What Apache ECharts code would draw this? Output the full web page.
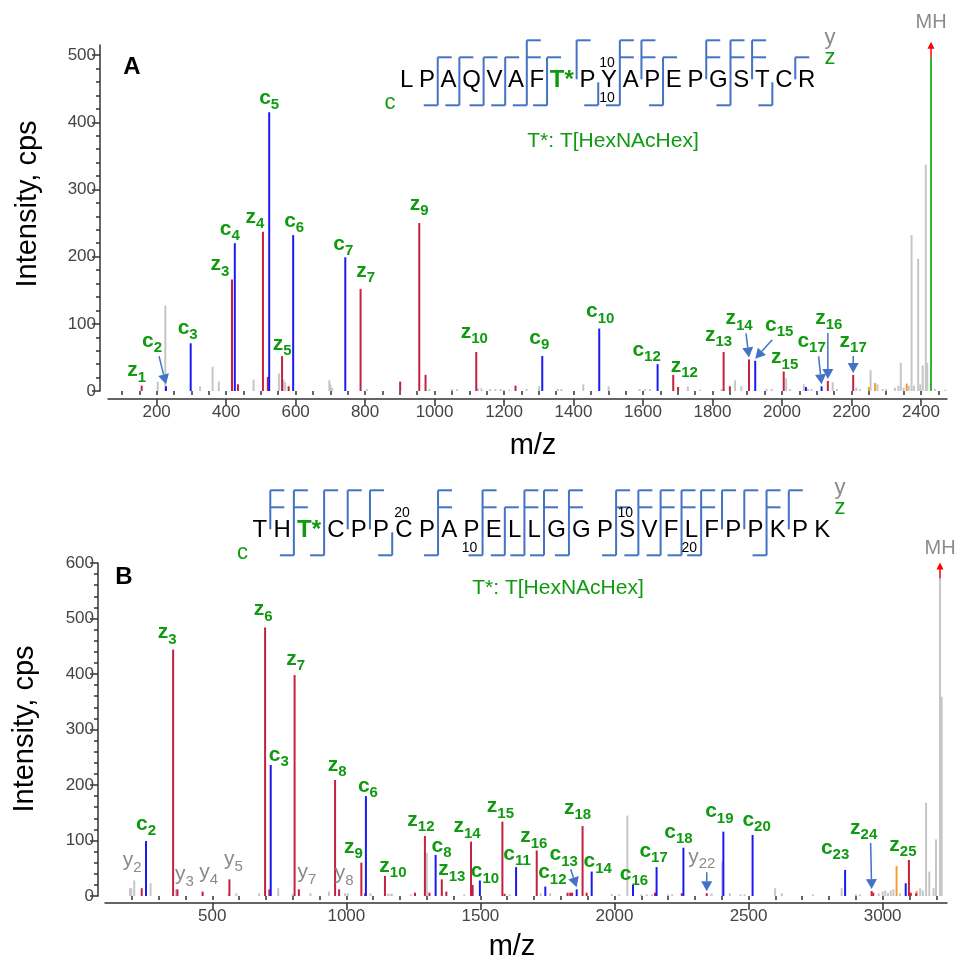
<!DOCTYPE html>
<html>
<head>
<meta charset="utf-8">
<script src="https://cdn.jsdelivr.net/npm/echarts@6/dist/echarts.min.js"></script>
<style>
  html, body { margin: 0; padding: 0; background: #fff; }
  #main { width: 955px; height: 962px; }
</style>
</head>
<body>
<div id="main"></div>
<script>
const FONT = '"Liberation Sans", Arial, Helvetica, sans-serif'
const C_BLUE = '#1a1af2'
const C_RED = '#c4203f'
const C_GRAY = '#c6c6c6'
const C_ORANGE = '#f0a030'
const C_MH = '#2db52d'
const C_LABEL = '#109a10'
const C_ARROW = '#4472c4'

// ---------- panel A ----------
const seqA = ['L', 'P', 'A', 'Q', 'V', 'A', 'F', 'T*', 'P', 'Y', 'A', 'P', 'E', 'P', 'G', 'S', 'T', 'C', 'R']
const cFragA = [2, 3, 4, 5, 6, 7, 9, 10, 12, 15, 17]
const zFragA = [1, 3, 4, 5, 7, 8, 9, 12, 13, 14, 15, 16, 17]
const yFragA = [3, 4, 5, 8, 9, 11, 13]

const xTicksA = [200, 400, 600, 800, 1000, 1200, 1400, 1600, 1800, 2000, 2200, 2400]
const yTicksA = [0, 100, 200, 300, 400, 500]

// [m/z, intensity]
const grayA = [[203, 14], [225, 127], [325, 7], [361, 36], [379, 14], [479, 17], [552, 26], [565, 17], [570, 13],
  [697, 16], [700, 10], [705, 5], [805, 3], [985, 3], [1050, 3], [1065, 3], [1125, 4], [1135, 4], [1160, 3],
  [1175, 3], [1190, 3], [1200, 2], [1215, 2], [1265, 3], [1301, 7], [1355, 3], [1365, 3], [1428, 10], [1501, 7],
  [1590, 3], [1605, 3], [1620, 3], [1729, 7], [1765, 2], [1826, 3], [1865, 16], [1883, 7], [1955, 3], [1970, 3],
  [2012, 19], [2023, 3], [2063, 10], [2075, 3], [2085, 3], [2146, 13], [2158, 3], [2214, 5], [2224, 3], [2255, 31],
  [2275, 10], [2290, 3], [2300, 3], [2325, 5], [2335, 8], [2342, 42], [2350, 5], [2365, 8], [2373, 232], [2380, 8],
  [2392, 197], [2398, 10], [2405, 38], [2414, 337], [2418, 42], [2440, 3], [2470, 2]]
const cPeaksA = [[227, 7], [298, 71], [425, 220], [524, 415], [593, 232], [743, 199], [1310, 52], [1474, 93],
  [1642, 40], [1923, 45], [2069, 6], [2114, 7]]
const zPeaksA = [[157, 8], [417, 166], [434, 10], [506, 237], [520, 21], [561, 52], [580, 7], [787, 152], [901, 14],
  [956, 250], [974, 24], [1120, 58], [1233, 8], [1687, 24], [1701, 6], [1832, 58], [1850, 7], [1905, 47],
  [2005, 29], [2132, 15], [2205, 24]]
const otherA = [[2250, 6], [2268, 12], [2359, 11]]
const mhA = [[2429, 496]]

// [ion, number, m/z of the peak it marks]
const labelsA = [['z', 1, 157], ['c', 2, 227], ['c', 3, 298], ['z', 3, 417], ['c', 4, 425], ['z', 4, 506],
  ['c', 5, 524], ['z', 5, 561], ['c', 6, 593], ['c', 7, 743], ['z', 7, 787], ['z', 9, 956], ['z', 10, 1120],
  ['c', 9, 1310], ['c', 10, 1474], ['c', 12, 1642], ['z', 12, 1687], ['z', 13, 1832], ['z', 14, 1905],
  ['c', 15, 1923], ['z', 15, 2005], ['c', 17, 2114], ['z', 16, 2132], ['z', 17, 2205]]

// ---------- panel B ----------
const seqB = ['T', 'H', 'T*', 'C', 'P', 'P', 'C', 'P', 'A', 'P', 'E', 'L', 'L', 'G', 'G', 'P', 'S', 'V', 'F', 'L',
  'F', 'P', 'P', 'K', 'P', 'K']
const cFragB = [2, 3, 6, 8, 10, 11, 12, 13, 14, 16, 17, 18, 19, 20, 23]
const zFragB = [3, 6, 7, 8, 9, 10, 12, 13, 14, 15, 16, 18, 24, 25]
const yFragB = [2, 3, 4, 5, 6, 7, 8, 9, 10, 12, 13, 14, 16, 18, 21, 22, 23, 24, 25]

const xTicksB = [500, 1000, 1500, 2000, 2500, 3000]
const yTicksB = [0, 100, 200, 300, 400, 500, 600]

const grayB = [[193, 14], [198, 14], [209, 28], [270, 23], [365, 12], [560, 4], [590, 5], [675, 5], [746, 14],
  [800, 4], [866, 5], [935, 8], [995, 5], [1005, 5], [1090, 5], [1155, 4], [1165, 4], [1170, 4], [1240, 3],
  [1300, 78], [1440, 3], [1610, 3], [1725, 5], [1760, 5], [1990, 4], [2018, 3], [2048, 145], [2100, 3],
  [2120, 3], [2140, 3], [2200, 3], [2215, 3], [2362, 5], [2402, 62], [2430, 5], [2470, 3], [2485, 3], [2599, 14],
  [2624, 5], [2740, 3], [2847, 14], [2900, 3], [2915, 3], [2985, 5], [3000, 8], [3010, 10], [3020, 5], [3030, 10],
  [3040, 12], [3065, 5], [3140, 14], [3150, 10], [3162, 168], [3174, 44], [3190, 14], [3199, 102], [3220, 359]]
const cPeaksB = [[253, 99], [718, 236], [1073, 180], [1333, 74], [1498, 28], [1633, 52], [1742, 17], [1859, 12],
  [1915, 44], [2069, 20], [2157, 52], [2257, 87], [2406, 116], [2515, 110], [2860, 47], [3086, 23]]
const zPeaksB = [[237, 14], [354, 444], [370, 12], [464, 8], [564, 30], [697, 484], [713, 12], [807, 398],
  [823, 12], [958, 209], [973, 12], [1056, 60], [1070, 5], [1144, 36], [1256, 6], [1293, 108], [1310, 6],
  [1356, 30], [1373, 8], [1465, 98], [1471, 20], [1582, 134], [1590, 4], [1710, 82], [1825, 6], [1835, 6],
  [1842, 6], [1881, 126], [1896, 6], [2151, 6], [2251, 5], [2344, 5], [2959, 9], [2965, 6], [3098, 65],
  [3105, 6], [3125, 5]]
const otherB = [[3052, 54], [3127, 9]]
const mhB = [[3214, 572]]

const labelsB = [['y', 2, 209], ['c', 2, 253], ['z', 3, 354], ['y', 3, 370], ['y', 4, 464], ['y', 5, 564],
  ['z', 6, 697], ['c', 3, 718], ['z', 7, 807], ['y', 7, 823], ['z', 8, 958], ['y', 8, 973], ['z', 9, 1056],
  ['c', 6, 1073], ['z', 10, 1144], ['z', 12, 1293], ['c', 8, 1333], ['z', 13, 1356], ['z', 14, 1465],
  ['c', 10, 1498], ['z', 15, 1582], ['c', 11, 1633], ['z', 16, 1710], ['c', 12, 1742], ['c', 13, 1859],
  ['z', 18, 1881], ['c', 14, 1915], ['c', 16, 2069], ['c', 17, 2157], ['c', 18, 2257], ['y', 22, 2344],
  ['c', 19, 2406], ['c', 20, 2515], ['c', 23, 2860], ['z', 24, 2959], ['z', 25, 3098]]

// label placement: [dx, dy] of the label baseline centre from the peak top, third item = draw an arrow
const layoutA = {
  z1: [-5, -8], c2: [-14, -38, 1], c3: [-3, -8], z3: [-12, -8], c4: [-5, -7], z4: [-8, -8], c5: [0, -7],
  z5: [0, -5], c6: [1, -7], c7: [-2, -6], z7: [5, -11], z9: [0, -12], z10: [-2, -13], c9: [-3, -11],
  c10: [1, -10], c12: [-11, -7], z12: [11, -2], z13: [-5, -10], z14: [-10, -34, 1], c15: [24, -29, 1],
  z15: [1, -7], c17: [-10, -38, 1], z16: [1, -56, 1], z17: [0, -27, 1]
}
const layoutB = {
  c2: [0, -10], z3: [-6, -10], z6: [-2, -11], c3: [8, -3], z7: [1, -9], z8: [2, -8], c6: [2, -3], z9: [-8, -9],
  z10: [8, -3], z12: [-4, -9], c8: [6, -2], z13: [10, -3], z14: [-4, -8], c10: [5, -2], z15: [-2, -8],
  c11: [1, -6], z16: [-3, -7], c12: [7, -7], c13: [-13, -28, 1], z18: [-5, -11], c14: [6, -3], c16: [1, -4],
  c17: [-3, -9], c18: [-5, -9], y22: [-5, -29, 1], c19: [-4, -13], c20: [4, -8], c23: [-10, -15],
  z24: [-8, -56, 1], z25: [-6, -8], y2: [-2, -13], y3: [7, -8], y4: [6, -12], y5: [4, -13], y7: [8, -10],
  y8: [5, -9]
}

const mctx = document.createElement('canvas').getContext('2d')
const textWidth = (s, font) => { mctx.font = font; return mctx.measureText(s).width }

// text placed by its baseline
const textEl = (s, x, base, size, font, color, align) => ({
  type: 'text',
  style: {
    text: s, x: x, y: base - 0.33 * size, font: font, fill: color,
    align: align || 'left', verticalAlign: 'middle', textAlign: align || 'left', textVerticalAlign: 'middle'
  }
})

const findIntensity = (lists, mz) => {
  for (const l of lists) {
    const p = l.find(d => d[0] === mz)
    if (p) return p[1]
  }
  return 0
}

const peakSeries = (data, color, idx) => ({
  type: 'custom',
  xAxisIndex: idx * 2,
  yAxisIndex: idx * 2,
  data: data,
  silent: true,
  clip: false,
  renderItem: (params, api) => {
    const p0 = api.coord([api.value(0), 0])
    const p1 = api.coord([api.value(0), api.value(1)])
    return {
      type: 'line',
      shape: { x1: p0[0], y1: p0[1], x2: p1[0], y2: p1[1] },
      style: { stroke: color, lineWidth: 2 }
    }
  }
})

const mhSeries = (data, color, idx, textGap) => ({
  type: 'custom',
  xAxisIndex: idx * 2,
  yAxisIndex: idx * 2,
  data: data,
  silent: true,
  clip: false,
  renderItem: (params, api) => {
    const p0 = api.coord([api.value(0), 0])
    const p1 = api.coord([api.value(0), api.value(1)])
    const x = p1[0], y = p1[1]
    return {
      type: 'group',
      children: [
        { type: 'line', shape: { x1: p0[0], y1: p0[1], x2: x, y2: y }, style: { stroke: color, lineWidth: 2 } },
        { type: 'line', shape: { x1: x, y1: y, x2: x, y2: y - 10 }, style: { stroke: '#ff0000', lineWidth: 1.5 } },
        { type: 'polygon', shape: { points: [[x, y - 16], [x - 3.5, y - 9], [x + 3.5, y - 9]] }, style: { fill: '#ff0000' } },
        textEl('MH', x, y - textGap, 20, '20px ' + FONT, '#8c8c8c', 'center')
      ]
    }
  }
})

const labelSeries = (labels, lists, layout, idx) => ({
  type: 'custom',
  xAxisIndex: idx * 2,
  yAxisIndex: idx * 2,
  data: labels.map(l => [l[2], findIntensity(lists, l[2])]),
  silent: true,
  clip: false,
  z: 5,
  renderItem: (params, api) => {
    const l = labels[params.dataIndex]
    const ion = l[0]
    const num = String(l[1])
    const top = api.coord([api.value(0), api.value(1)])
    const lay = layout[ion + num] || [0, -8]
    const weight = ion === 'y' ? 'normal ' : 'bold '
    const color = ion === 'y' ? '#8a8a8a' : C_LABEL
    const f1 = weight + '21px ' + FONT
    const f2 = weight + '15px ' + FONT
    const w1 = textWidth(ion, f1)
    const w2 = textWidth(num, f2)
    const cx = top[0] + lay[0]
    const base = top[1] + lay[1]
    const x0 = cx - (w1 + w2) / 2
    const children = [
      textEl(ion, x0, base, 21, f1, color),
      textEl(num, x0 + w1, base + 5, 15, f2, color)
    ]
    if (lay[2]) {
      const ax0 = cx + Math.max(-7, Math.min(7, top[0] - cx))
      const ay0 = base + 8
      const ax1 = top[0]
      const ay1 = top[1] - 2
      const len = Math.hypot(ax1 - ax0, ay1 - ay0)
      const ux = (ax1 - ax0) / len, uy = (ay1 - ay0) / len
      const hx = ax1 - ux * 10, hy = ay1 - uy * 10
      children.push({ type: 'line', shape: { x1: ax0, y1: ay0, x2: hx, y2: hy }, style: { stroke: C_ARROW, lineWidth: 1.5 } })
      children.push({
        type: 'polygon',
        shape: { points: [[ax1, ay1], [hx - uy * 5.5, hy + ux * 5.5], [hx + uy * 5.5, hy - ux * 5.5]] },
        style: { fill: C_ARROW }
      })
    }
    return { type: 'group', children: children }
  }
})

const steps = (a, b, s) => {
  const r = []
  for (let v = a; v <= b + 1e-9; v += s) r.push(v)
  return r
}

const axisLineStyle = { color: '#333', width: 1.5 }
const plain = v => String(v)
const xAxes = (grid, min, max, offset, major, minor) => [
  {
    type: 'value', gridIndex: grid, min: min, max: max, position: 'bottom', offset: offset,
    axisLine: { show: true, onZero: false, lineStyle: axisLineStyle },
    axisTick: { show: true, length: 7, customValues: major, lineStyle: axisLineStyle },
    axisLabel: { customValues: major, formatter: plain, fontSize: 17, color: '#444', fontFamily: FONT, margin: 5 },
    splitLine: { show: false }
  },
  {
    type: 'value', gridIndex: grid, min: min, max: max, position: 'bottom', offset: offset,
    axisLine: { show: false },
    axisTick: { show: true, length: 4, customValues: minor, lineStyle: axisLineStyle },
    axisLabel: { show: false },
    splitLine: { show: false }
  }
]
const yAxes = (grid, max, offset, major, minor) => [
  {
    type: 'value', gridIndex: grid, min: 0, max: max, position: 'left', offset: offset,
    axisLine: { show: true, onZero: false, lineStyle: axisLineStyle },
    axisTick: { show: true, length: 8, customValues: major, lineStyle: axisLineStyle },
    axisLabel: { customValues: major, formatter: plain, fontSize: 17, color: '#444', fontFamily: FONT, margin: 4 },
    splitLine: { show: false }
  },
  {
    type: 'value', gridIndex: grid, min: 0, max: max, position: 'left', offset: offset,
    axisLine: { show: false },
    axisTick: { show: true, length: 4, customValues: minor, lineStyle: axisLineStyle },
    axisLabel: { show: false },
    splitLine: { show: false }
  }
]

// ---------- static texts and the sequence maps ----------
const graphic = []
const gText = (s, x, y, font, color, rotation) => {
  graphic.push({
    type: 'text', x: x, y: y, rotation: rotation || 0, silent: true,
    style: { text: s, x: 0, y: 0, font: font, fill: color, align: 'center', verticalAlign: 'middle', textAlign: 'center', textVerticalAlign: 'middle' }
  })
}
const gLine = (x1, y1, x2, y2) => {
  graphic.push({ type: 'line', silent: true, shape: { x1, y1, x2, y2 }, style: { stroke: C_ARROW, lineWidth: 2 } })
}

const drawSequence = (seq, cFrag, zFrag, yFrag, start, end, base, marks, legendX) => {
  const n = seq.length
  const fonts = seq.map(s => (s === 'T*' ? 'bold 24px ' : '24px ') + FONT)
  const widths = seq.map((s, i) => textWidth(s, fonts[i]))
  const gap = (end - start - widths.reduce((a, b) => a + b, 0)) / (n - 1)
  const centers = []
  const divs = []
  let x = start
  seq.forEach((s, i) => {
    centers.push(x + widths[i] / 2)
    gText(s, x + widths[i] / 2, base - 8, fonts[i], s === 'T*' ? C_LABEL : '#000')
    x += widths[i] + gap
    if (i < n - 1) divs.push(x - gap / 2)
  })
  const yLvl = base - 48, zLvl = base - 31, cLvl = base + 17, hl = 14
  for (let d = 1; d < n; d++) {
    const xd = divs[d - 1]
    const hasC = cFrag.includes(d)
    const hasZ = zFrag.includes(n - d)
    const hasY = yFrag.includes(n - d)
    if (!hasC && !hasZ && !hasY) continue
    const top = hasY ? yLvl : hasZ ? zLvl : base - 6
    const bot = hasC ? cLvl : base - 9
    gLine(xd, top, xd, bot)
    if (hasC) gLine(xd - hl, cLvl, xd, cLvl)
    if (hasZ) gLine(xd, zLvl, xd + hl, zLvl)
    if (hasY) gLine(xd, yLvl, xd + hl, yLvl)
  }
  // residue numbering
  marks.forEach(m => {
    const cxm = centers[m[0] - 1] - 2
    gText(String(m[1]), cxm, m[2] === 'up' ? base - 25 : base + 10, '14px ' + FONT, '#000')
  })
  gText('y', legendX, base - 50, '22px ' + FONT, '#8a8a8a')
  gText('z', legendX, base - 30, '22px ' + FONT, C_LABEL)
  gText('c', start - 10, base + 15, '22px ' + FONT, C_LABEL)
}

drawSequence(seqA, cFragA, zFragA, yFragA, 400, 815.4, 88.3, [[10, 10, 'up'], [10, 10, 'down']], 830)
drawSequence(seqB, cFragB, zFragB, yFragB, 252.5, 830.2, 538.3,
  [[7, 20, 'up'], [10, 10, 'down'], [17, 10, 'up'], [20, 20, 'down']], 840)

gText('T*: T[HexNAcHex]', 613, 141, '21px ' + FONT, C_LABEL)
gText('T*: T[HexNAcHex]', 558, 588, '21px ' + FONT, C_LABEL)
gText('A', 132, 67, 'bold 24px ' + FONT, '#000')
gText('B', 124, 577, 'bold 24px ' + FONT, '#000')
gText('Intensity, cps', 28, 204, '29px ' + FONT, '#000', Math.PI / 2)
gText('Intensity, cps', 25, 729, '29px ' + FONT, '#000', Math.PI / 2)
gText('m/z', 533, 446, '29px ' + FONT, '#000')
gText('m/z', 512, 947, '29px ' + FONT, '#000')

const chart = echarts.init(document.getElementById('main'))
chart.setOption({
  animation: false,
  backgroundColor: '#fff',
  textStyle: { fontFamily: FONT },
  grid: [
    { left: 108, top: 45, width: 839, height: 346 },
    { left: 105, top: 563, width: 842, height: 333 }
  ],
  xAxis: [
    ...xAxes(0, 60, 2475, 8, xTicksA, steps(100, 2450, 50)),
    ...xAxes(1, 100, 3240, 7, xTicksB, steps(200, 3200, 100))
  ],
  yAxis: [
    ...yAxes(0, 515, 8, yTicksA, steps(0, 500, 20)),
    ...yAxes(1, 600, 7, yTicksB, steps(0, 600, 20))
  ],
  series: [
    peakSeries(grayA, C_GRAY, 0),
    peakSeries(otherA, C_ORANGE, 0),
    peakSeries(zPeaksA, C_RED, 0),
    peakSeries(cPeaksA, C_BLUE, 0),
    mhSeries(mhA, C_MH, 0, 29),
    labelSeries(labelsA, [cPeaksA, zPeaksA, grayA], layoutA, 0),
    peakSeries(grayB, C_GRAY, 1),
    peakSeries(otherB, C_ORANGE, 1),
    peakSeries(zPeaksB, C_RED, 1),
    peakSeries(cPeaksB, C_BLUE, 1),
    mhSeries(mhB, C_GRAY, 1, 23),
    labelSeries(labelsB, [cPeaksB, zPeaksB, grayB], layoutB, 1)
  ],
  graphic: graphic
})
</script>
</body>
</html>
